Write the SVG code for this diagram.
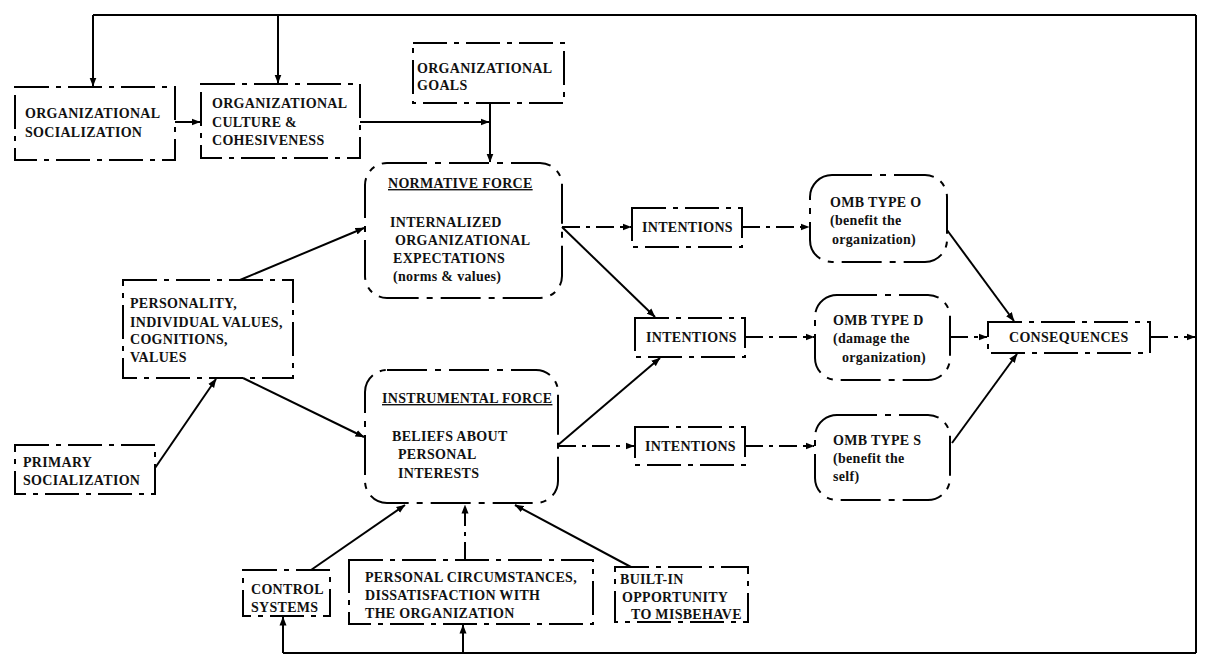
<svg xmlns="http://www.w3.org/2000/svg" width="1205" height="655" viewBox="0 0 1205 655">
<defs>
<marker id="ah" markerWidth="9" markerHeight="8" refX="8.5" refY="4" orient="auto" markerUnits="userSpaceOnUse">
<path d="M0,0.5 L9,4 L0,7.5 Z" fill="#000"/>
</marker>
</defs>
<style>
.bx{fill:none;stroke:#000;stroke-width:2;stroke-dasharray:34 7 5 7}
.rb{fill:none;stroke:#000;stroke-width:2;stroke-dasharray:40 8 6 8}
.t{font-family:"Liberation Serif","Times New Roman",serif;font-weight:bold;font-size:14px;letter-spacing:0.3px;fill:#111}
.u{text-decoration:underline}
.ln{fill:none;stroke:#000;stroke-width:2}
.dl{fill:none;stroke:#000;stroke-width:2;stroke-dasharray:18 6 4 6}
</style>
<rect width="1205" height="655" fill="#fff"/>

<g id="connectors">
<path class="ln" d="M1196,15 V653"/>
<path class="ln" d="M93,15 H1196"/>
<path class="ln" d="M283,653 H1196"/>
<path class="ln" d="M93,15 V86" marker-end="url(#ah)"/>
<path class="ln" d="M278,15 V83" marker-end="url(#ah)"/>
<path class="ln" d="M283,653 V617" marker-end="url(#ah)"/>
<path class="ln" d="M463,653 V625" marker-end="url(#ah)"/>
<path class="ln" d="M175,122 H200" marker-end="url(#ah)"/>
<path class="ln" d="M360,122 H489" marker-end="url(#ah)"/>
<path class="ln" d="M490,103 V162" marker-end="url(#ah)"/>
<path class="ln" d="M240,280 L364,228" marker-end="url(#ah)"/>
<path class="ln" d="M155,468 L216,379" marker-end="url(#ah)"/>
<path class="ln" d="M243,378 L364,437" marker-end="url(#ah)"/>
<path class="dl" d="M562,227 H631" marker-end="url(#ah)"/>
<path class="dl" d="M742,227 H809" marker-end="url(#ah)"/>
<path class="ln" d="M562,227 L655,317" marker-end="url(#ah)"/>
<path class="ln" d="M558,445 L660,358" marker-end="url(#ah)"/>
<path class="dl" d="M745,337 H814" marker-end="url(#ah)"/>
<path class="dl" d="M558,446 H634" marker-end="url(#ah)"/>
<path class="dl" d="M745,446 H814" marker-end="url(#ah)"/>
<path class="ln" d="M947,230 L1014,321" marker-end="url(#ah)"/>
<path class="dl" d="M950,337 H987" marker-end="url(#ah)"/>
<path class="ln" d="M952,443 L1017,354" marker-end="url(#ah)"/>
<path class="dl" d="M1150,337 H1195" marker-end="url(#ah)"/>
<path class="ln" d="M311,570 L405,505" marker-end="url(#ah)"/>
<path class="dl" d="M465,560 V505" marker-end="url(#ah)"/>
<path class="ln" d="M631,567 L515,505" marker-end="url(#ah)"/>
</g>

<g id="org-socialization">
<rect class="bx" x="15" y="87" width="160" height="73"/>
<text class="t" x="25" y="118">ORGANIZATIONAL</text>
<text class="t" x="25" y="137">SOCIALIZATION</text>
</g>
<g id="org-culture">
<rect class="bx" x="201" y="84" width="159" height="74"/>
<text class="t" x="212" y="108">ORGANIZATIONAL</text>
<text class="t" x="212" y="127">CULTURE &amp;</text>
<text class="t" x="212" y="145">COHESIVENESS</text>
</g>
<g id="org-goals">
<rect class="bx" x="413" y="43" width="151" height="60"/>
<text class="t" x="417" y="73">ORGANIZATIONAL</text>
<text class="t" x="417" y="90">GOALS</text>
</g>
<g id="normative-force">
<rect class="rb" x="365" y="163" width="197" height="135" rx="22"/>
<text class="t u" x="388" y="188">NORMATIVE FORCE</text>
<text class="t" x="390" y="227">INTERNALIZED</text>
<text class="t" x="395" y="245">ORGANIZATIONAL</text>
<text class="t" x="393" y="263">EXPECTATIONS</text>
<text class="t" x="393" y="281">(norms &amp; values)</text>
</g>
<g id="personality">
<rect class="bx" x="123" y="280" width="170" height="98"/>
<text class="t" x="130" y="308">PERSONALITY,</text>
<text class="t" x="130" y="327">INDIVIDUAL VALUES,</text>
<text class="t" x="130" y="344">COGNITIONS,</text>
<text class="t" x="130" y="362">VALUES</text>
</g>
<g id="primary-socialization">
<rect class="bx" x="15" y="445" width="140" height="49"/>
<text class="t" x="23" y="467">PRIMARY</text>
<text class="t" x="23" y="485">SOCIALIZATION</text>
</g>
<g id="instrumental-force">
<rect class="rb" x="365" y="370" width="193" height="133" rx="22"/>
<text class="t u" x="382" y="403">INSTRUMENTAL FORCE</text>
<text class="t" x="392" y="441">BELIEFS ABOUT</text>
<text class="t" x="398" y="459">PERSONAL</text>
<text class="t" x="398" y="478">INTERESTS</text>
</g>
<g id="intentions-1">
<rect class="bx" x="632" y="208" width="110" height="39"/>
<text class="t" x="642" y="232">INTENTIONS</text>
</g>
<g id="intentions-2">
<rect class="bx" x="635" y="318" width="110" height="39"/>
<text class="t" x="646" y="342">INTENTIONS</text>
</g>
<g id="intentions-3">
<rect class="bx" x="635" y="427" width="110" height="38"/>
<text class="t" x="645" y="451">INTENTIONS</text>
</g>
<g id="omb-type-o">
<rect class="rb" x="810" y="175" width="137" height="87" rx="22"/>
<text class="t" x="830" y="207">OMB TYPE O</text>
<text class="t" x="830" y="225">(benefit the</text>
<text class="t" x="832" y="244">organization)</text>
</g>
<g id="omb-type-d">
<rect class="rb" x="815" y="295" width="135" height="85" rx="22"/>
<text class="t" x="833" y="325">OMB TYPE D</text>
<text class="t" x="833" y="343">(damage the</text>
<text class="t" x="842" y="362">organization)</text>
</g>
<g id="omb-type-s">
<rect class="rb" x="815" y="415" width="135" height="85" rx="22"/>
<text class="t" x="833" y="445">OMB TYPE S</text>
<text class="t" x="833" y="463">(benefit the</text>
<text class="t" x="833" y="481">self)</text>
</g>
<g id="consequences">
<rect class="bx" x="988" y="322" width="162" height="31"/>
<text class="t" x="1009" y="342">CONSEQUENCES</text>
</g>
<g id="control-systems">
<rect class="bx" x="243" y="570" width="87" height="46"/>
<text class="t" x="251" y="594">CONTROL</text>
<text class="t" x="251" y="612">SYSTEMS</text>
</g>
<g id="personal-circumstances">
<rect class="bx" x="349" y="560" width="244" height="64"/>
<text class="t" x="365" y="582">PERSONAL CIRCUMSTANCES,</text>
<text class="t" x="365" y="600">DISSATISFACTION WITH</text>
<text class="t" x="365" y="618">THE ORGANIZATION</text>
</g>
<g id="built-in-opportunity">
<rect class="bx" x="615" y="567" width="133" height="55"/>
<text class="t" x="620" y="584">BUILT-IN</text>
<text class="t" x="622" y="602">OPPORTUNITY</text>
<text class="t" x="631" y="619">TO MISBEHAVE</text>
</g>
</svg>
